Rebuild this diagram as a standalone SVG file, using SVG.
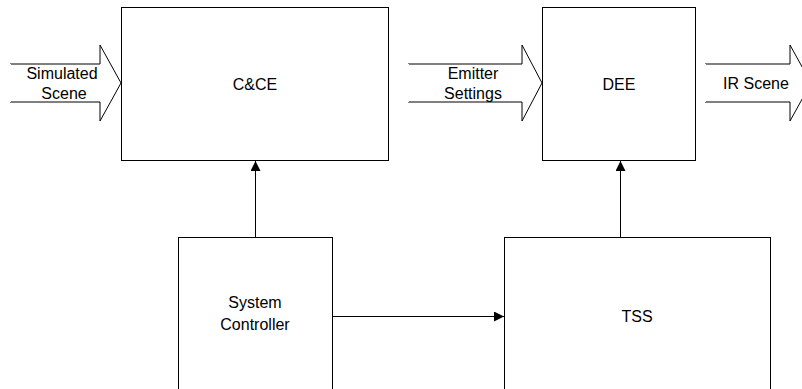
<svg xmlns="http://www.w3.org/2000/svg" width="802" height="389" viewBox="0 0 802 389">
<defs>
<style>
.box{fill:#fff;stroke:#000;stroke-width:1}
.fat{fill:#fff;stroke:#000;stroke-width:1}
.t{font-family:"Liberation Sans",Arial,sans-serif;font-size:16px;fill:#000;text-anchor:middle}
.c{stroke:#000;stroke-width:1;fill:none}
</style>
<marker id="ah" viewBox="0 0 10 10" refX="10" refY="5" markerWidth="10" markerHeight="10" markerUnits="userSpaceOnUse" orient="auto">
<path d="M0,0 L10,5 L0,10 Z" fill="#000"/>
</marker>
</defs>
<rect width="802" height="389" fill="#fff"/>
<g id="arrow-simulated">
<polygon class="fat" points="10,64 100,64 100,45 121,83 100,121 100,102 10,102"/>
<line x1="10" y1="64" x2="10" y2="102" stroke="#fff" stroke-width="2"/>
<text class="t" x="62" y="79">Simulated</text>
<text class="t" x="64" y="99">Scene</text>
</g>
<g id="arrow-emitter">
<polygon class="fat" points="408,64 522,64 522,45 542,83 522,121 522,102 408,102"/>
<line x1="408" y1="64" x2="408" y2="102" stroke="#fff" stroke-width="2"/>
<text class="t" x="473" y="79">Emitter</text>
<text class="t" x="473" y="99">Settings</text>
</g>
<g id="arrow-ir">
<polygon class="fat" points="705,64 790,64 790,45 811,83 790,121 790,102 705,102"/>
<line x1="705" y1="64" x2="705" y2="102" stroke="#fff" stroke-width="2"/>
<text class="t" x="756" y="89">IR Scene</text>
</g>
<g id="node-cce">
<rect class="box" x="121.5" y="7.5" width="267" height="153"/>
<text class="t" x="255" y="90">C&amp;CE</text>
</g>
<g id="node-dee">
<rect class="box" x="542.5" y="7.5" width="153" height="153"/>
<text class="t" x="619" y="90">DEE</text>
</g>
<g id="node-sc">
<rect class="box" x="178.5" y="237.5" width="154" height="170"/>
<text class="t" x="255" y="308">System</text>
<text class="t" x="255" y="330">Controller</text>
</g>
<g id="node-tss">
<rect class="box" x="504.5" y="237.5" width="266" height="170"/>
<text class="t" x="637" y="322">TSS</text>
</g>
<g id="connectors">
<line class="c" x1="255.5" y1="237" x2="255.5" y2="161" marker-end="url(#ah)"/>
<line class="c" x1="620.5" y1="237" x2="620.5" y2="161" marker-end="url(#ah)"/>
<line class="c" x1="333" y1="316.5" x2="504" y2="316.5" marker-end="url(#ah)"/>
</g>
</svg>
